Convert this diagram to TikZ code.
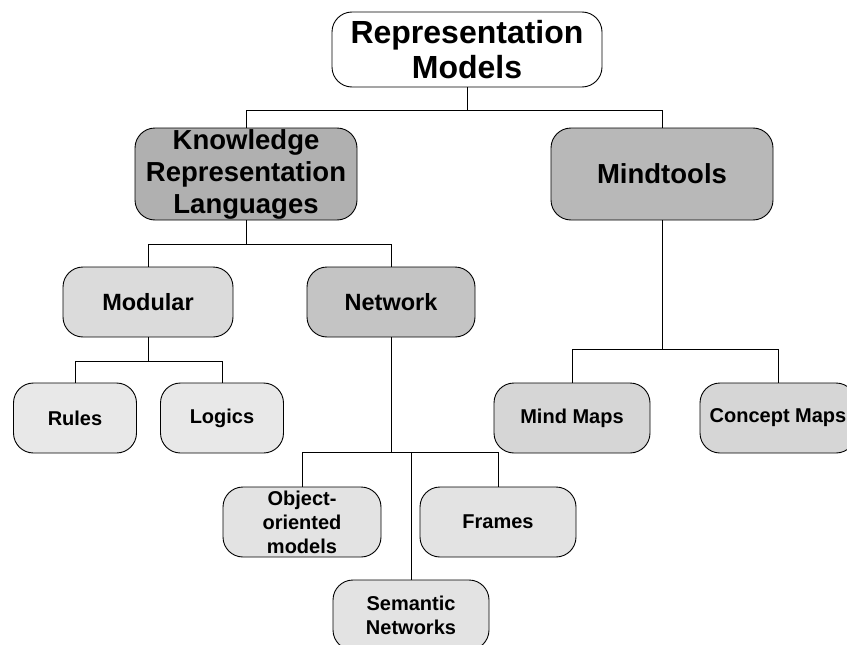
\documentclass[tikz,border=0pt]{standalone}
\usepackage{fontspec}
\setmainfont{Liberation Sans}
\begin{document}
\begin{tikzpicture}[x=1pt, y=-1pt,
  box/.style={draw, line width=0.9pt, rounded corners=20pt, align=center,
    inner sep=0pt, font=\bfseries},
  top/.style={box, minimum width=270pt, minimum height=75pt,
    font=\bfseries\fontsize{32}{35}\selectfont},
  mid/.style={box, minimum width=222pt, minimum height=92pt,
    font=\bfseries\fontsize{27.5}{32}\selectfont},
  sub/.style={box, minimum width=170pt, minimum height=70pt,
    font=\bfseries\fontsize{23.5}{27}\selectfont},
  leaf/.style={box, minimum width=156pt, minimum height=70pt,
    font=\bfseries\fontsize{20}{24}\selectfont},
  link/.style={line width=0.9pt}]
  \useasboundingbox (0, 0) rectangle (847, 645);
  \node[top, fill=white] (root) at (467, 49.5) {Representation\\Models};
  \node[mid, fill=black!31] (krl) at (246, 174) {Knowledge\\Representation\\Languages};
  \node[mid, fill=black!28] (mind) at (662, 174) {Mindtools};
  \node[sub, fill=black!14] (mod) at (148, 302) {Modular};
  \node[sub, fill=black!23, minimum width=168pt] (net) at (391, 302) {Network};
  \node[leaf, fill=black!9, minimum width=123pt] (rules) at (75, 418) {Rules};
  \node[leaf, fill=black!9, minimum width=123pt] (logics) at (222, 418) {Logics};
  \node[leaf, fill=black!16] (mm) at (572, 418) {Mind Maps};
  \node[leaf, fill=black!16] (cm) at (778, 418) {Concept Maps};
  \node[leaf, fill=black!11, minimum width=158pt] (oo) at (302, 522) {Object-\\oriented\\models};
  \node[leaf, fill=black!11] (fr) at (498, 522) {Frames};
  \node[leaf, fill=black!11] (sn) at (411, 615) {Semantic\\Networks};
  % tree links
  \foreach \c in {krl, mind} \draw[link] (root.south) -- ++(0, 23) -| (\c.north);
  \foreach \c in {mod, net} \draw[link] (krl.south) -- ++(0, 24) -| (\c.north);
  \foreach \c in {rules, logics} \draw[link] (mod.south) -- ++(0, 24) -| (\c.north);
  \foreach \c in {mm, cm} \draw[link] (mind.south) -- ++(0, 129) -| (\c.north);
  \foreach \c in {oo, sn, fr} \draw[link] (net.south) -- ++(0, 115) -| (\c.north);
\end{tikzpicture}
\end{document}
